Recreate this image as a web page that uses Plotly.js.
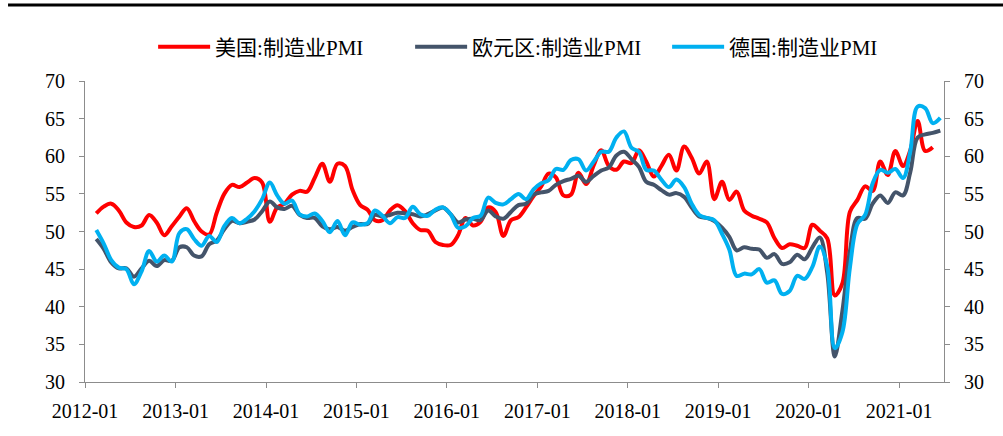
<!DOCTYPE html>
<html>
<head>
<meta charset="utf-8">
<script src="https://cdn.plot.ly/plotly-3.0.1.min.js"></script>
<style>html,body{margin:0;padding:0;background:#fff;}#chart{width:1003px;height:436px;}</style>
</head>
<body>
<div id="chart"></div>
<script>
// Series names
const seriesNames = ["美国:制造业PMI", "欧元区:制造业PMI", "德国:制造业PMI"];

// US ISM manufacturing PMI, 2012-02 .. 2021-05
const usPMI = [
  52.4, 53.3, 53.7, 52.8, 51.2, 50.6, 50.8, 52.2, 51.2, 49.5, 50.7,
  52.0, 53.1, 51.4, 50.0, 49.6, 52.5, 55.0, 56.2, 55.9, 56.5, 57.1, 56.5,
  51.3, 53.2, 53.7, 54.9, 55.4, 55.3, 57.1, 59.0, 56.6, 59.0, 58.7, 55.5,
  53.5, 52.9, 51.5, 51.5, 52.8, 53.5, 52.7, 51.1, 50.2, 50.1, 48.6, 48.2,
  48.2, 49.5, 51.8, 50.8, 51.3, 53.2, 52.6, 49.4, 51.5, 51.9, 53.2, 54.7,
  56.0, 57.7, 57.2, 54.8, 54.9, 57.8, 56.3, 58.8, 60.8, 58.7, 58.2, 59.3,
  59.1, 60.8, 59.3, 57.3, 58.7, 60.2, 58.1, 61.3, 59.8, 57.7, 59.3, 54.3,
  56.6, 54.2, 55.3, 52.8, 52.1, 51.7, 51.2, 49.1, 47.8, 48.3, 48.1, 47.8,
  50.9, 50.1, 49.1, 41.5, 43.1, 52.6, 54.2, 56.0, 55.4, 59.3, 57.5, 60.7,
  58.7, 60.8, 64.7, 60.7, 61.2
];

// Euro area manufacturing PMI, 2012-02 .. 2021-06
const euroPMI = [
  49.0, 47.7, 45.9, 45.1, 45.1, 44.0, 45.1, 46.1, 45.4, 46.2, 46.1,
  47.9, 47.9, 46.8, 46.7, 48.3, 48.8, 50.3, 51.4, 51.1, 51.3, 51.6, 52.7,
  54.0, 53.2, 53.0, 53.4, 52.2, 51.8, 51.8, 50.7, 50.3, 50.6, 50.1, 50.6,
  51.0, 51.0, 52.2, 52.0, 52.2, 52.5, 52.4, 52.3, 52.0, 52.3, 52.8, 53.2,
  52.3, 51.2, 51.6, 51.7, 51.5, 52.8, 52.0, 51.7, 52.6, 53.5, 53.7, 54.9,
  55.2, 55.4, 56.2, 56.7, 57.0, 57.4, 56.6, 57.4, 58.1, 58.5, 60.1, 60.6,
  59.6, 58.6, 56.6, 56.2, 55.5, 54.9, 55.1, 54.6, 53.2, 52.0, 51.8, 51.4,
  50.5, 49.3, 47.5, 47.9, 47.7, 47.6, 46.5, 47.0, 45.7, 45.9, 46.9, 46.3,
  47.9, 49.2, 44.5, 33.4, 39.4, 47.4, 51.8, 51.7, 53.7, 54.8, 53.8, 55.2,
  54.8, 57.9, 62.5, 62.9, 63.1, 63.4
];

// Germany manufacturing PMI, 2012-02 .. 2021-06
const germanyPMI = [
  50.2, 48.4, 46.2, 45.2, 45.0, 43.0, 44.7, 47.4, 46.0, 46.8, 46.0,
  49.8, 50.3, 49.0, 48.1, 49.4, 48.6, 50.7, 51.8, 51.1, 51.7, 52.7, 54.3,
  56.5, 54.8, 53.7, 54.1, 52.3, 52.0, 52.4, 51.4, 49.9, 51.4, 49.5, 51.2,
  50.9, 51.1, 52.8, 52.1, 51.1, 51.9, 51.8, 53.3, 52.3, 52.1, 52.9, 53.2,
  52.3, 50.5, 50.7, 51.8, 52.1, 54.5, 53.8, 53.6, 54.3, 55.0, 54.3, 55.6,
  56.4, 56.8, 58.3, 58.2, 59.5, 59.6, 58.1, 59.3, 60.6, 60.6, 62.5, 63.3,
  61.1, 60.6, 58.2, 58.1, 56.9, 55.9, 56.9, 55.9, 53.7, 52.2, 51.8, 51.5,
  49.7, 47.6, 44.1, 44.4, 44.3, 45.0, 43.2, 43.5, 41.7, 42.1, 44.1, 43.7,
  45.3, 48.0, 45.4, 34.5, 36.6, 45.2, 51.0, 52.2, 56.4, 58.2, 57.8, 58.3,
  57.1, 60.7, 66.6, 66.4, 64.4, 65.1
];

// Y tick values
const yTicks = [30, 35, 40, 45, 50, 55, 60, 65, 70];

// Monthly category dates starting 2012-02
function monthsFrom(year, month, n) {
  const out = [];
  let y = year, m = month;
  for (let i = 0; i < n; i++) {
    out.push(y + "-" + String(m).padStart(2, "0") + "-01");
    m++; if (m > 12) { m = 1; y++; }
  }
  return out;
}
const usMonths = monthsFrom(2012, 2, usPMI.length);
const euMonths = monthsFrom(2012, 2, euroPMI.length);

const colors = ["#FF0000", "#44546A", "#00B0F0"];
const serif = "'Liberation Serif', 'Times New Roman', 'Noto Sans CJK SC', serif";

function lineTrace(x, y, name, color) {
  return {
    type: "scatter", mode: "lines", x: x, y: y, name: name,
    xperiod: "M1", xperiodalignment: "middle",
    line: {color: color, width: 4, shape: "spline", smoothing: 1},
    hoverinfo: "x+y+name"
  };
}

const data = [
  lineTrace(usMonths, usPMI, seriesNames[0], colors[0]),
  lineTrace(euMonths, euroPMI, seriesNames[1], colors[1]),
  lineTrace(euMonths, germanyPMI, seriesNames[2], colors[2]),
  {type: "scatter", mode: "lines", x: [euMonths[0]], y: [null], yaxis: "y2",
   showlegend: false, hoverinfo: "skip", line: {color: "rgba(0,0,0,0)"}}
];

const axisGray = "#8C8C8C";
const yAxisCommon = {
  range: [30, 70], tickvals: yTicks, ticktext: yTicks.map(String),
  showgrid: false, zeroline: false, showline: true, linecolor: axisGray, linewidth: 1,
  ticks: "outside", ticklen: 5, tickcolor: axisGray, tickwidth: 1,
  tickfont: {family: serif, size: 20, color: "#000"},
  ticklabelstandoff: 10, fixedrange: true
};

const layout = {
  width: 1003, height: 436,
  margin: {l: 85, r: 59, t: 81, b: 54, pad: 0},
  paper_bgcolor: "#fff", plot_bgcolor: "#fff",
  showlegend: true,
  legend: {
    orientation: "h", x: 0.0793, xanchor: "left", y: 1.113, yanchor: "middle",
    font: {family: serif, size: 21, color: "#000"},
    itemwidth: 52, entrywidth: 190, entrywidthmode: "pixels",
    bgcolor: "rgba(0,0,0,0)"
  },
  xaxis: {
    type: "date", range: ["2012-01-01", "2021-07-01"],
    tick0: "2012-01-01", dtick: "M12", tickformat: "%Y-%m",
    showgrid: false, zeroline: false, showline: true, linecolor: axisGray, linewidth: 1,
    ticks: "outside", ticklen: 5, tickcolor: axisGray, tickwidth: 1,
    tickfont: {family: serif, size: 20, color: "#000"},
    ticklabelstandoff: 6, fixedrange: true
  },
  yaxis: Object.assign({side: "left"}, yAxisCommon),
  yaxis2: Object.assign({side: "right", overlaying: "y"}, yAxisCommon),
  shapes: [{
    type: "line", xref: "paper", yref: "paper",
    x0: -0.0896, x1: 1.07, y0: 1.2525, y1: 1.2525,
    line: {color: "#000", width: 3}
  }]
};

Plotly.newPlot("chart", data, layout, {displayModeBar: false, staticPlot: true});
</script>
</body>
</html>
